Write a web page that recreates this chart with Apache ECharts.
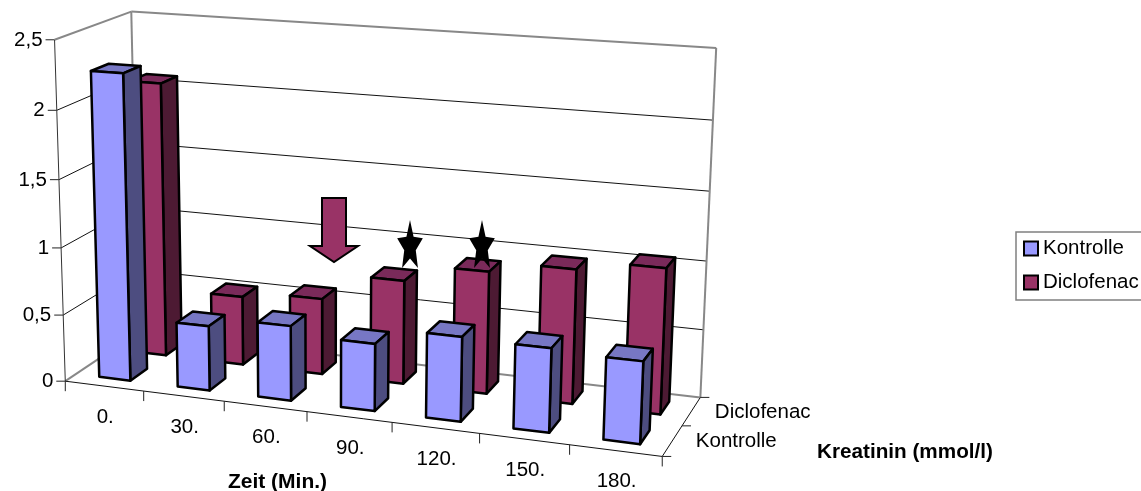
<!DOCTYPE html>
<html>
<head>
<meta charset="utf-8">
<style>html,body{margin:0;padding:0;background:#fff}#main{width:1141px;height:491px}</style>
<script src="https://cdn.jsdelivr.net/npm/echarts@6/dist/echarts.min.js"></script>
</head>
<body>
<div id="main"></div>
<script>
var categories = ['0.', '30.', '60.', '90.', '120.', '150.', '180.'];
var kontrolle = [2.26, 0.48, 0.55, 0.49, 0.61, 0.6, 0.58];
var diclofenac = [2.07, 0.52, 0.57, 0.77, 0.9, 0.98, 1.05];
var depthLabels = ['Kontrolle', 'Diclofenac'];
var yTicks = [0, 0.5, 1, 1.5, 2, 2.5];
var yLabels = ['0', '0,5', '1', '1,5', '2', '2,5'];

var FONT = 'Liberation Sans, Arial, sans-serif';
var MAX_X = categories.length, MAX_Y = 2.5, MAX_Z = depthLabels.length;

// camera fit: [category pos, value, depth, screen x, screen y]
var anchors = [
    [0, 0, 0, 66.7, 380.7], [7, 0, 0, 662, 457.5], [0, 0, 2, 136.4, 333], [7, 0, 2, 701, 396],
    [0, 2.5, 0, 53, 39.5], [0, 2.5, 2, 133, 12], [7, 2.5, 2, 716, 48],
    [1, 0, 0, 144, 390.7], [2, 0, 0, 225, 401], [6, 0, 0, 569, 445.5], [7, 0, 1, 682, 425.7],
    [0, 2, 0, 56.7, 110], [0, 1, 0, 61, 248]
];

function fitCamera() {
    var n = 11, A = [], i, j, k;
    for (i = 0; i < n; i++) {
        A.push([]);
        for (j = 0; j <= n; j++) A[i].push(0);
    }
    function addRow(r, b) {
        for (var a = 0; a < n; a++) {
            for (var c = 0; c < n; c++) A[a][c] += r[a] * r[c];
            A[a][n] += r[a] * b;
        }
    }
    anchors.forEach(function (p) {
        var X = p[0] / MAX_X, Y = p[1] / MAX_Y, Z = p[2] / MAX_Z, sx = p[3], sy = p[4];
        addRow([X, Y, Z, 1, 0, 0, 0, 0, -sx * X, -sx * Y, -sx * Z], sx);
        addRow([0, 0, 0, 0, X, Y, Z, 1, -sy * X, -sy * Y, -sy * Z], sy);
    });
    for (i = 0; i < n; i++) {
        var best = i;
        for (k = i + 1; k < n; k++) if (Math.abs(A[k][i]) > Math.abs(A[best][i])) best = k;
        var t = A[i]; A[i] = A[best]; A[best] = t;
        for (k = 0; k < n; k++) {
            if (k === i) continue;
            var f = A[k][i] / A[i][i];
            for (j = i; j <= n; j++) A[k][j] -= f * A[i][j];
        }
    }
    var out = [];
    for (i = 0; i < n; i++) out.push(A[i][n] / A[i][i]);
    return out;
}
var cam = fitCamera();

// category position + value go through the axes, then through the camera
function project(params, api, pos, val, depth) {
    var sys = params.coordSys;
    var c = api.coord([0, val]);
    var band = api.size([1, 0])[0];
    var X = (c[0] - band / 2 + pos * band - sys.x) / sys.width;
    var Y = (sys.y + sys.height - c[1]) / sys.height;
    var Z = depth / MAX_Z;
    var w = cam[8] * X + cam[9] * Y + cam[10] * Z + 1;
    return [
        (cam[0] * X + cam[1] * Y + cam[2] * Z + cam[3]) / w,
        (cam[4] * X + cam[5] * Y + cam[6] * Z + cam[7]) / w
    ];
}

function seg(a, b, color, width) {
    return {
        type: 'line',
        shape: { x1: a[0], y1: a[1], x2: b[0], y2: b[1] },
        style: { stroke: color, lineWidth: width, fill: null }
    };
}

function label(p, text, align) {
    return {
        type: 'text',
        style: {
            x: p[0], y: p[1], text: text, fill: '#000',
            font: '20.5px ' + FONT,
            textAlign: align, textVerticalAlign: 'middle'
        }
    };
}

function renderFrame(params, api) {
    var out = [];
    var P = function (x, y, z) { return project(params, api, x, y, z); };
    var GRAY = '#888888';
    yTicks.forEach(function (v, i) {
        var front = P(0, v, 0);
        if (v > 0 && v < MAX_Y) {
            out.push(seg(front, P(0, v, MAX_Z), '#111', 1));
            out.push(seg(P(0, v, MAX_Z), P(MAX_X, v, MAX_Z), '#111', 1));
        }
        out.push(seg(front, [front[0] - 9, front[1]], '#222', 1));
        out.push(label([front[0] - 12, front[1] + 0.5], yLabels[i], 'right'));
    });
    // gray wall outline
    out.push(seg(P(0, MAX_Y, 0), P(0, MAX_Y, MAX_Z), GRAY, 2));
    out.push(seg(P(0, MAX_Y, MAX_Z), P(MAX_X, MAX_Y, MAX_Z), GRAY, 2));
    out.push(seg(P(0, 0, MAX_Z), P(0, MAX_Y, MAX_Z), GRAY, 2));
    out.push(seg(P(MAX_X, 0, MAX_Z), P(MAX_X, MAX_Y, MAX_Z), GRAY, 2));
    out.push(seg(P(0, 0, 0), P(0, 0, MAX_Z), GRAY, 2));
    out.push(seg(P(0, 0, MAX_Z), P(MAX_X, 0, MAX_Z), GRAY, 2));
    // axes
    out.push(seg(P(0, 0, 0), P(0, MAX_Y, 0), '#333', 1));
    out.push(seg(P(0, 0, 0), P(MAX_X, 0, 0), '#111', 1));
    out.push(seg(P(MAX_X, 0, 0), P(MAX_X, 0, MAX_Z), '#111', 1));
    for (var i = 0; i <= MAX_X; i++) {
        var t = P(i, 0, 0);
        out.push(seg(t, [t[0], t[1] + 10], '#222', 1));
        if (i < MAX_X) {
            var m = P(i + 0.5, 0, 0);
            out.push(label([m[0] + 1, m[1] + 31], categories[i], 'center'));
        }
    }
    for (var z = 0; z <= MAX_Z; z++) {
        var d = P(MAX_X, 0, z);
        out.push(seg(d, [d[0] + 9, d[1]], '#222', 1));
        if (z < MAX_Z) {
            var q = P(MAX_X, 0, z + 0.5);
            out.push(label([q[0] + 23.5, q[1] + 0.5], depthLabels[z], 'left'));
        }
    }
    return { type: 'group', children: out };
}

function barRenderer(depth, colors) {
    return function (params, api) {
        var i = api.value(0), v = api.value(1);
        var x0 = i + 0.3, x1 = i + 0.7, z0 = depth + 0.28, z1 = depth + 0.74;
        var P = function (x, y, z) { return project(params, api, x, y, z); };
        function face(pts, fill) {
            return {
                type: 'polygon',
                shape: { points: pts },
                style: { fill: fill, stroke: '#000', lineWidth: 2.5, lineJoin: 'round' }
            };
        }
        return {
            type: 'group',
            children: [
                face([P(x0, v, z0), P(x1, v, z0), P(x1, v, z1), P(x0, v, z1)], colors[2]),
                face([P(x1, 0, z0), P(x1, 0, z1), P(x1, v, z1), P(x1, v, z0)], colors[1]),
                face([P(x0, 0, z0), P(x1, 0, z0), P(x1, v, z0), P(x0, v, z0)], colors[0])
            ]
        };
    };
}

function starPoints(cx, cy, rx, ry) {
    var pts = [];
    for (var i = 0; i < 10; i++) {
        var r = i % 2 ? 0.45 : 1;
        var a = Math.PI * i / 5;
        pts.push([cx + rx * r * Math.sin(a), cy - ry * r * Math.cos(a)]);
    }
    return pts;
}

function barData(values) {
    return values.map(function (v, i) { return [i, v]; });
}

var myChart = echarts.init(document.getElementById('main'));
var option = {
    animation: false,
    backgroundColor: '#ffffff',
    grid: { left: 70, right: 480, top: 40, bottom: 110 },
    xAxis: { type: 'category', data: categories, show: false },
    yAxis: { type: 'value', min: 0, max: MAX_Y, interval: 0.5, show: false },
    legend: {
        left: 1016,
        top: 232,
        orient: 'vertical',
        align: 'left',
        padding: [6, 10, 7, 7],
        itemWidth: 14,
        itemHeight: 14,
        itemGap: 13,
        borderColor: '#808080',
        borderWidth: 1.5,
        icon: 'rect',
        selectedMode: false,
        textStyle: { fontFamily: FONT, fontSize: 20.5, color: '#000' },
        data: depthLabels
    },
    graphic: [
        {
            type: 'polygon', z: 50,
            shape: { points: [[322, 198], [346, 198], [346, 246], [358, 246], [334, 262], [310, 246], [322, 246]] },
            style: { fill: '#993366', stroke: '#000', lineWidth: 2 }
        },
        { type: 'polygon', z: 50, shape: { points: starPoints(410, 246.5, 13.5, 26.5) }, style: { fill: '#000' } },
        { type: 'polygon', z: 50, shape: { points: starPoints(482, 246.5, 13.5, 26.5) }, style: { fill: '#000' } },
        {
            type: 'text', z: 50, x: 277.5, y: 482,
            style: { text: 'Zeit (Min.)', font: 'bold 21px ' + FONT, fill: '#000', textAlign: 'center', textVerticalAlign: 'middle' }
        },
        {
            type: 'text', z: 50, x: 905, y: 452,
            style: { text: 'Kreatinin (mmol/l)', font: 'bold 20.7px ' + FONT, fill: '#000', textAlign: 'center', textVerticalAlign: 'middle' }
        }
    ],
    series: [
        { type: 'custom', silent: true, renderItem: renderFrame, data: [[0, 0]], z: 1 },
        {
            name: 'Diclofenac',
            type: 'custom',
            silent: true,
            itemStyle: { color: '#993366', borderColor: '#000', borderWidth: 2 },
            renderItem: barRenderer(1, ['#993366', '#4D1A33', '#7A2A5A']),
            encode: { x: 0, y: 1 },
            data: barData(diclofenac),
            z: 2
        },
        {
            name: 'Kontrolle',
            type: 'custom',
            silent: true,
            itemStyle: { color: '#9999FF', borderColor: '#000', borderWidth: 2 },
            renderItem: barRenderer(0, ['#9999FF', '#4D4D80', '#7777C4']),
            encode: { x: 0, y: 1 },
            data: barData(kontrolle),
            z: 3
        }
    ]
};
myChart.setOption(option);
</script>
</body>
</html>
